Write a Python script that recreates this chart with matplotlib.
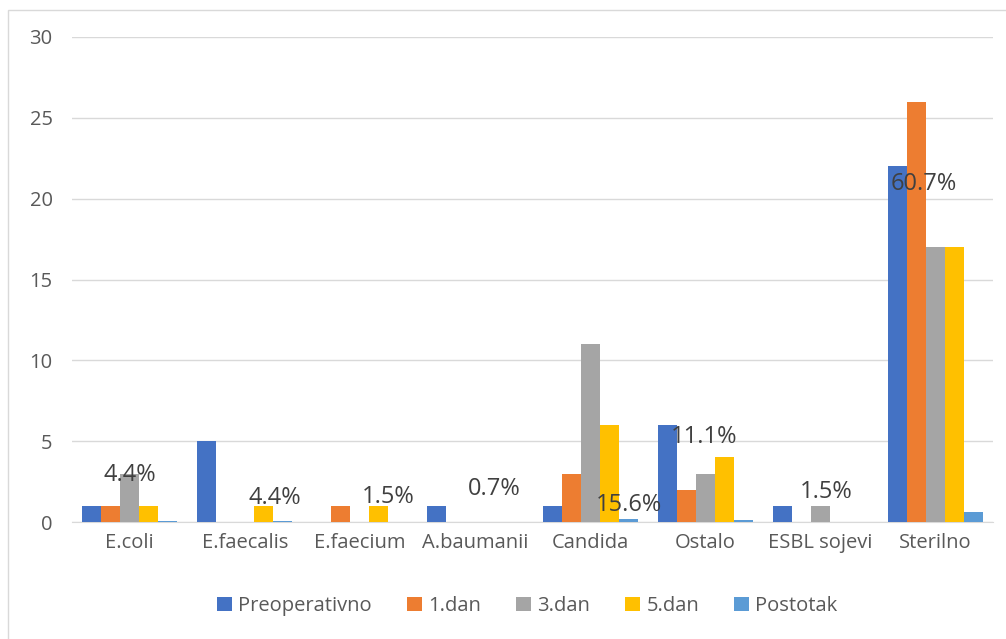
import matplotlib.pyplot as plt
import numpy as np
from matplotlib.patches import Rectangle

plt.rcParams["font.family"] = ["Open Sans", "DejaVu Sans"]

categories = ["E.coli", "E.faecalis", "E.faecium", "A.baumanii", "Candida",
              "Ostalo", "ESBL sojevi", "Sterilno"]
preoperativno = [1, 5, 0, 1, 1, 6, 1, 22]
dan1 = [1, 0, 1, 0, 3, 2, 0, 26]
dan3 = [3, 0, 0, 0, 11, 3, 1, 17]
dan5 = [1, 1, 1, 0, 6, 4, 0, 17]
postotak = [0.044, 0.044, 0.015, 0.007, 0.156, 0.111, 0.015, 0.607]

series_names = ["Preoperativno", "1.dan", "3.dan", "5.dan", "Postotak"]
colors = ["#4472C4", "#ED7D31", "#A5A5A5", "#FFC000", "#5B9BD5"]

# where the percentage labels sit (x shift in category units, y in data units)
label_dx = [0.0, 0.26, 0.25, 0.17, 0.34, -0.01, 0.05, -0.1]
label_y = [2.9, 1.48, 1.55, 2.04, 1.05, 5.26, 1.86, 20.9]

fig = plt.figure(figsize=(10.06, 6.39), dpi=100)
fig.patches.append(Rectangle((8 / 1006, -0.01), 1.0, 1 - 10 / 639 + 0.01,
                             transform=fig.transFigure, fill=False,
                             edgecolor="#D9D9D9", linewidth=1))
ax = fig.add_axes([72 / 1006, 1 - 522 / 639, (993 - 72) / 1006, (522 - 37) / 639])

x = np.arange(len(categories))
width = 0.165
all_series = [preoperativno, dan1, dan3, dan5, postotak]
for i, (vals, name, c) in enumerate(zip(all_series, series_names, colors)):
    ax.bar(x + (i - 2) * width, vals, width, color=c, label=name, zorder=3)

for i, p in enumerate(postotak):
    ax.text(x[i] + label_dx[i], label_y[i], f"{p * 100:.1f}%", ha="center",
            va="center", fontsize=17, color="#404040", zorder=4)

ax.set_xlim(-0.5, len(categories) - 0.5)
ax.set_ylim(0, 30)
ax.set_yticks(range(0, 31, 5))
ax.set_xticks(x)
ax.set_xticklabels(categories)
ax.grid(axis="y", color="#D9D9D9", linewidth=1, zorder=0)
ax.tick_params(axis="both", length=0, labelsize=14.5, colors="#595959")
ax.tick_params(axis="y", pad=14)
ax.tick_params(axis="x", pad=8)
for s in ["top", "right", "left"]:
    ax.spines[s].set_visible(False)
ax.spines["bottom"].set_color("#D9D9D9")

fig.legend(loc="center", bbox_to_anchor=(0.524, 1 - 606 / 639), ncol=5,
           frameon=False, fontsize=14.5, handlelength=0.75, handleheight=0.75,
           handletextpad=0.3, columnspacing=1.75, labelcolor="#595959")

fig.savefig("out.png", dpi=100)
